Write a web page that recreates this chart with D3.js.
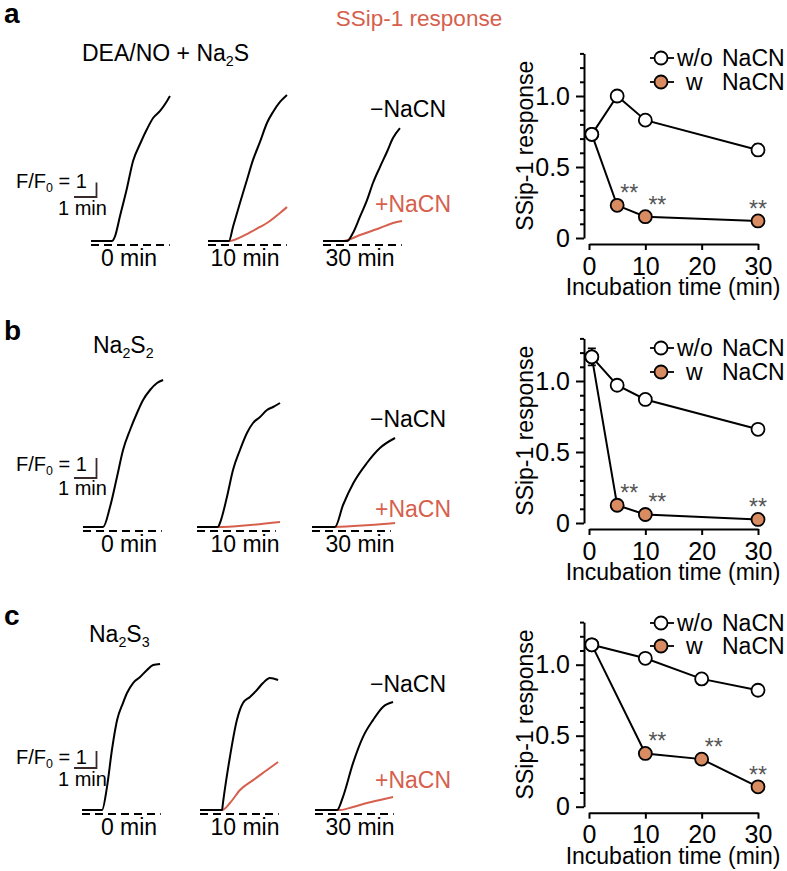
<!DOCTYPE html>
<html>
<head>
<meta charset="utf-8">
<script src="https://cdn.jsdelivr.net/npm/d3@7"></script>
<style>
  body { margin: 0; background: #fff; }
  text { font-family: "Liberation Sans", Arial, sans-serif; }
</style>
</head>
<body>
<svg id="fig"></svg>
<script>
// ---- summary data (right-hand plots) ----
const timesAB = [0.5, 5, 10, 30];
const timesC = [0.5, 10, 20, 30];

const aWithout = [0.73, 1.00, 0.83, 0.62];
const aWith = [0.73, 0.23, 0.15, 0.12];
const aWithoutErr = [0.01, 0.01, 0.01, 0.04];

const bWithout = [1.17, 0.97, 0.87, 0.66];
const bWith = [1.17, 0.125, 0.06, 0.025];
const bWithoutErr = [0.06, 0.01, 0.01, 0.01];

const cWithout = [1.14, 1.045, 0.90, 0.82];
const cWith = [1.14, 0.375, 0.335, 0.14];
const cWithoutErr = [0.02, 0.01, 0.01, 0.01];

const xTicks = [0, 10, 20, 30];
const yTicks = d3.range(0, 14).map(i => i / 10);
const yMajorLabels = { 0: "0", 5: "0.5", 10: "1.0" };

// ---- example traces, [minutes, delta F/F0] ----
const aTrace0 = [[0,0],[0.93,0],[1.07,0.34],[1.29,1.72],[1.6,3.66],[1.87,5.52],[2.18,6.69],[2.49,7.72],[2.76,8.48],[3.07,8.97],[3.38,9.66],[3.51,10.0]];
const aTrace10 = [[0,0],[0.93,0],[1.11,0.97],[1.42,2.62],[1.73,4.21],[2.0,5.59],[2.31,6.83],[2.62,8.14],[2.89,8.9],[3.2,9.59],[3.51,10.07]];
const aTrace10cn = [[0,0],[0.93,0],[1.73,0.48],[2.31,0.97],[2.62,1.24],[3.2,1.93],[3.51,2.34]];
const aTrace30 = [[0,0],[1.07,0],[1.33,0.55],[1.64,1.66],[1.96,2.83],[2.22,4.0],[2.53,5.1],[2.84,6.14],[3.11,7.1],[3.42,7.79]];
const aTrace30cn = [[0,0],[0.89,0],[1.64,0.41],[2.53,0.9],[3.11,1.24],[3.51,1.38]];

const bTrace0 = [[0,0],[0.89,0],[1.2,1.0],[1.51,2.5],[1.78,3.85],[2.09,4.85],[2.4,5.7],[2.67,6.35],[2.98,6.85],[3.29,7.2],[3.56,7.35]];
const bTrace10 = [[0,0],[0.93,0],[1.02,0.2],[1.33,1.5],[1.6,2.85],[1.91,3.85],[2.22,4.7],[2.49,5.2],[2.8,5.5],[3.11,5.85],[3.38,6.0],[3.69,6.2]];
const bTrace10cn = [[0,0],[0.93,0],[2.36,0.1],[3.69,0.25]];
const bTrace30 = [[0,0],[1.02,0],[1.38,1.1],[1.84,2.2],[2.44,3.2],[3.02,3.95],[3.69,4.45]];
const bTrace30cn = [[0,0],[1.02,0],[2.58,0.1],[3.69,0.2]];

const cTrace0 = [[0,0],[0.89,0],[1.11,1.35],[1.33,3.53],[1.56,5.29],[1.82,6.29],[2.0,6.88],[2.27,7.47],[2.58,7.82],[2.89,8.24],[3.16,8.53],[3.47,8.59]];
const cTrace10 = [[0,0],[0.98,0],[1.02,0.41],[1.33,3.12],[1.64,5.29],[1.91,6.29],[2.22,6.65],[2.53,7.06],[2.8,7.47],[3.11,7.76],[3.47,7.65]];
const cTrace10cn = [[0,0],[0.98,0],[1.33,0.41],[1.78,1.18],[2.36,1.76],[2.98,2.35],[3.47,2.82]];
const cTrace30 = [[0,0],[0.98,0],[1.24,0.76],[1.69,2.76],[2.13,4.29],[2.58,5.29],[3.02,6.06],[3.47,6.35]];
const cTrace30cn = [[0,0],[1.11,0],[1.69,0.18],[2.31,0.41],[2.89,0.59],[3.47,0.76]];

const timeLabels = ["0 min", "10 min", "30 min"];

// ---- drawing ----
const red = "#d6604d";
const orange = "#d98c62";

const svg = d3.select("#fig").attr("width", 787).attr("height", 871);
svg.append("rect").attr("width", 787).attr("height", 871).attr("fill", "#fff");

// text with optional subscripts, parts: [text, isSub]
function label(x, y, parts, size, opts = {}) {
  const t = svg.append("text").attr("x", x).attr("y", y).attr("font-size", size)
    .attr("fill", opts.fill || "#000")
    .attr("text-anchor", opts.anchor || "start")
    .attr("font-weight", opts.weight || "normal");
  parts.forEach(p => {
    if (p[1]) {
      t.append("tspan").attr("font-size", size * 0.62).attr("y", y + size * 0.22).text(p[0]);
    } else {
      t.append("tspan").attr("y", y).text(p[0]);
    }
  });
  return t;
}

// header
label(419, 26, [["SSip-1 response", false]], 22.5, { fill: red, anchor: "middle" });

const panels = [
  {
    letter: "a", letterY: 23,
    title: [["DEA/NO + Na", false], ["2", true], ["S", false]], titleX: 82, titleY: 61,
    cols: [91, 208, 323], base: 241, unitPx: 14.5,
    traces: [[0, aTrace0, "#000"], [1, aTrace10cn, red], [1, aTrace10, "#000"], [2, aTrace30cn, red], [2, aTrace30, "#000"]],
    bar: { textY: 188, barY: 197, minY: 215 },
    minusY: 117, plusY: 212,
    resp: { y0: 238, times: timesAB, wo: aWithout, w: aWith, err: aWithoutErr, legend: [58, 82] }
  },
  {
    letter: "b", letterY: 340,
    title: [["Na", false], ["2", true], ["S", false], ["2", true]], titleX: 93, titleY: 353,
    cols: [83, 197, 312], base: 527, unitPx: 20,
    traces: [[0, bTrace0, "#000"], [1, bTrace10cn, red], [1, bTrace10, "#000"], [2, bTrace30cn, red], [2, bTrace30, "#000"]],
    bar: { textY: 471, barY: 478, minY: 495 },
    minusY: 427, plusY: 517,
    resp: { y0: 523, times: timesAB, wo: bWithout, w: bWith, err: bWithoutErr, legend: [348, 372] }
  },
  {
    letter: "c", letterY: 625,
    title: [["Na", false], ["2", true], ["S", false], ["3", true]], titleX: 89, titleY: 642,
    cols: [82, 200, 315], base: 810, unitPx: 17,
    traces: [[0, cTrace0, "#000"], [1, cTrace10cn, red], [1, cTrace10, "#000"], [2, cTrace30cn, red], [2, cTrace30, "#000"]],
    bar: { textY: 764, barY: 768, minY: 786 },
    minusY: 692, plusY: 788,
    resp: { y0: 806.7, times: timesC, wo: cWithout, w: cWith, err: cWithoutErr, legend: [623, 646] }
  }
];

const pxPerMin = 22.5;
const labelCenters = [129, 245, 360];

panels.forEach(p => {
  label(4, p.letterY, [[p.letter, false]], 28, { weight: "bold" });
  label(p.titleX, p.titleY, p.title, 23);

  const y = d3.scaleLinear().domain([0, 1]).range([p.base, p.base - p.unitPx]);

  // dashed zero lines + time labels
  p.cols.forEach((x0, i) => {
    const x = d3.scaleLinear().domain([0, 1]).range([x0, x0 + pxPerMin]);
    svg.append("line")
      .attr("x1", x(0)).attr("x2", x(3.5))
      .attr("y1", y(0) + 4).attr("y2", y(0) + 4)
      .attr("stroke", "#000").attr("stroke-width", 1.8)
      .attr("stroke-dasharray", "8,5");
    label(labelCenters[i], p.base + 25, [[timeLabels[i], false]], 23, { anchor: "middle" });
  });

  p.traces.forEach(([col, data, color]) => {
    const x0 = p.cols[col];
    const x = d3.scaleLinear().domain([0, 1]).range([x0, x0 + pxPerMin]);
    const line = d3.line().x(d => x(d[0])).y(d => y(d[1])).curve(d3.curveMonotoneX);
    svg.append("path").datum(data)
      .attr("d", line)
      .attr("fill", "none")
      .attr("stroke", color)
      .attr("stroke-width", 2)
      .attr("stroke-linejoin", "round");
  });

  // scale bar
  const sx = d3.scaleLinear().domain([0, 1]).range([74, 74 + pxPerMin]);
  const sy = d3.scaleLinear().domain([0, 1]).range([p.bar.barY, p.bar.barY - p.unitPx]);
  svg.append("path")
    .attr("d", `M${sx(0)},${sy(0)}H${sx(1)}V${sy(1)}`)
    .attr("fill", "none").attr("stroke", "#3a2a2a").attr("stroke-width", 1.8);
  label(16, p.bar.textY, [["F/F", false], ["0", true], [" = 1", false]], 20);
  label(58, p.bar.minY, [["1 min", false]], 20);

  label(370, p.minusY, [["\u2212NaCN", false]], 23);
  label(375, p.plusY, [["+NaCN", false]], 23, { fill: red });

  drawResponse(p.resp);
});

function drawResponse(r) {
  const x = d3.scaleLinear().domain([0, 30]).range([589, 758]);
  const y = d3.scaleLinear().domain([0, 1.3]).range([r.y0, r.y0 - 184.6]);
  const g = svg.append("g");

  // y axis
  const ya = g.append("g").attr("transform", "translate(584,0)")
    .call(d3.axisLeft(y).tickValues(yTicks).tickSize(4).tickSizeOuter(0).tickPadding(10)
      .tickFormat(d => yMajorLabels[Math.round(d * 10)] || ""));
  ya.select(".domain").attr("stroke-width", 2);
  ya.selectAll(".tick line").attr("stroke-width", 2)
    .attr("x2", d => (Math.round(d * 10) % 5 === 0 ? -8 : -4));
  ya.selectAll("text").attr("font-size", 25).attr("font-family", "Liberation Sans, Arial, sans-serif").attr("fill", "#000");

  // x axis
  const xa = g.append("g").attr("transform", `translate(0,${r.y0 + 6})`)
    .call(d3.axisBottom(x).tickValues(xTicks).tickSize(6).tickSizeOuter(0).tickPadding(7));
  xa.select(".domain").attr("stroke-width", 2);
  xa.selectAll(".tick line").attr("stroke-width", 2);
  xa.selectAll("text").attr("font-size", 25).attr("font-family", "Liberation Sans, Arial, sans-serif").attr("fill", "#000");

  g.append("text").attr("x", 673).attr("y", r.y0 + 57)
    .attr("text-anchor", "middle").attr("font-size", 23)
    .text("Incubation time (min)");
  g.append("text")
    .attr("transform", `translate(533,${y(0.65)}) rotate(-90)`)
    .attr("text-anchor", "middle").attr("font-size", 23)
    .text("SSip-1 response");

  const line = d3.line().x((d, i) => x(r.times[i])).y(d => y(d));

  // error bars (w/o NaCN)
  r.wo.forEach((v, i) => {
    const e = r.err[i];
    const cx = x(r.times[i]);
    g.append("path")
      .attr("d", `M${cx - 4},${y(v + e)}H${cx + 4}M${cx},${y(v + e)}V${y(v - e)}M${cx - 4},${y(v - e)}H${cx + 4}`)
      .attr("stroke", "#000").attr("stroke-width", 1.6).attr("fill", "none");
  });

  g.append("path").datum(r.w).attr("d", line).attr("fill", "none").attr("stroke", "#000").attr("stroke-width", 2);
  g.append("path").datum(r.wo).attr("d", line).attr("fill", "none").attr("stroke", "#000").attr("stroke-width", 2);

  g.selectAll(".pw").data(r.w).enter().append("circle")
    .attr("cx", (d, i) => x(r.times[i])).attr("cy", d => y(d)).attr("r", 6.5)
    .attr("fill", orange).attr("stroke", "#000").attr("stroke-width", 1.8);
  g.selectAll(".pwo").data(r.wo).enter().append("circle")
    .attr("cx", (d, i) => x(r.times[i])).attr("cy", d => y(d)).attr("r", 6.5)
    .attr("fill", "#fff").attr("stroke", "#000").attr("stroke-width", 1.8);

  // significance marks
  r.w.forEach((v, i) => {
    if (i === 0) return;
    const t = r.times[i];
    g.append("text")
      .attr("x", x(t) + (t === 30 ? 0 : 12)).attr("y", y(v) - 4)
      .attr("text-anchor", "middle").attr("font-size", 23).attr("fill", "#555")
      .text("**");
  });

  // legend
  [[r.legend[0], "#fff", "w/o"], [r.legend[1], orange, "w"]].forEach(([ly, fill, txt]) => {
    g.append("line").attr("x1", 650).attr("x2", 674).attr("y1", ly).attr("y2", ly)
      .attr("stroke", "#000").attr("stroke-width", 1.8);
    g.append("circle").attr("cx", 661).attr("cy", ly).attr("r", 6.5)
      .attr("fill", fill).attr("stroke", "#000").attr("stroke-width", 1.8);
    g.append("text").attr("x", txt === "w" ? 686 : 677).attr("y", ly + 8)
      .attr("font-size", 23).text(txt);
    g.append("text").attr("x", 722).attr("y", ly + 8)
      .attr("font-size", 23).text("NaCN");
  });
}
</script>
</body>
</html>
